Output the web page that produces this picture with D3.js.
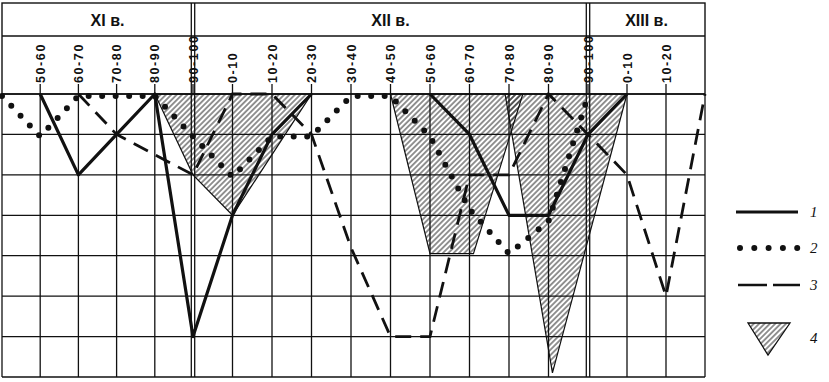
<!DOCTYPE html>
<html>
<head>
<meta charset="utf-8">
<script src="https://cdn.jsdelivr.net/npm/d3@7"></script>
<style>
  body { margin: 0; background: #fff; }
  svg { display: block; }
</style>
</head>
<body>
<svg id="chart" width="829" height="382"></svg>
<script>
// decades along the x axis (first and last columns are unlabeled borders)
const DECADES = ['40-50', '50-60', '60-70', '70-80', '80-90', '90-100',
  '0-10', '10-20', '20-30', '30-40', '40-50', '50-60', '60-70', '70-80', '80-90', '90-100',
  '0-10', '10-20', '20-30'];
const TICK_SHOWN = [false, true, true, true, true, true, true, true, true, true,
  true, true, true, true, true, true, true, true, false];

const CENTURY_NAMES = ['XI в.', 'XII в.', 'XIII в.'];
const CENTURY_BOUNDS = [0, 5, 15, 18];

// depth level (0 = top row, 7 = bottom) per decade, null = no line
const SERIES_SOLID = [null, 0, 2, 1, 0, 6, 3, 1, 0, null, null, 0, 1, 3, 3, 1, 0, null, null];
const SERIES_DOTTED = [0, 1, 0, 0, 0, 1, 2, 1, 1, 0, 0, 1, 2.8, 3.9, 3.1, 0, null, null, null];
const SERIES_DASHED = [null, null, 0, 1, 1.5, 2, 0, 0, 1, 3.8, 6, 6, 2, 2, 0, 1, 2, 5, 0];

// hatched areas (series 4) as [decade index, level] outlines
const HATCH_A = [[4, 0], [5, 2], [6, 3], [7, 1.5], [8, 0]];
const HATCH_B = [[10, 0], [11, 3.95], [12.1, 3.95], [13.05, 0.95], [13.35, 0]];
const HATCH_C = [[12.9, 0], [14.1, 6.9], [16, 0]];

const LEGEND_LABELS = ['1', '2', '3', '4'];

const svg = d3.select('#chart');

const x = d3.scaleLinear().domain(CENTURY_BOUNDS).range([2, 193, 588, 705]);
const y = d3.scaleLinear().domain([0, 7]).range([94, 377]);
const HEAD_TOP = 3;
const HEAD_MID = 36;
const INK = '#111';

const pattern = svg.append('defs').append('pattern')
  .attr('id', 'hatch')
  .attr('patternUnits', 'userSpaceOnUse')
  .attr('width', 3.8)
  .attr('height', 3.8)
  .attr('patternTransform', 'rotate(45)');
pattern.append('line')
  .attr('x1', 1.9).attr('y1', 0).attr('x2', 1.9).attr('y2', 3.8)
  .attr('stroke', INK).attr('stroke-width', 0.9);

// hatched areas
const outline = d3.line().x(d => x(d[0])).y(d => y(d[1]));
svg.append('g').selectAll('path')
  .data([HATCH_A, HATCH_B, HATCH_C])
  .join('path')
  .attr('d', d => outline(d) + 'Z')
  .attr('fill', 'url(#hatch)')
  .attr('stroke', INK)
  .attr('stroke-width', 1.2);

// grid
const grid = svg.append('g').attr('stroke', INK).attr('stroke-width', 1.3);
grid.selectAll('line.v')
  .data(d3.range(DECADES.length).filter(i => !CENTURY_BOUNDS.slice(1, -1).includes(i)))
  .join('line')
  .attr('class', 'v')
  .attr('x1', i => x(i)).attr('x2', i => x(i))
  .attr('y1', y(0)).attr('y2', y(7));
grid.selectAll('line.h')
  .data(d3.range(0, 8))
  .join('line')
  .attr('class', 'h')
  .attr('x1', x(0)).attr('x2', x(18))
  .attr('y1', d => y(d)).attr('y2', d => y(d));

// century boundaries: double lines through header and plot
CENTURY_BOUNDS.slice(1, -1).forEach(b => {
  [-1.7, 1.7].forEach(off => {
    grid.append('line')
      .attr('x1', x(b) + off).attr('x2', x(b) + off)
      .attr('y1', HEAD_TOP).attr('y2', y(7));
  });
});

// header
const head = svg.append('g');
head.append('rect')
  .attr('x', x(0)).attr('y', HEAD_TOP)
  .attr('width', x(18) - x(0)).attr('height', y(0) - HEAD_TOP)
  .attr('fill', 'none').attr('stroke', INK).attr('stroke-width', 1.4);
head.append('line')
  .attr('x1', x(0)).attr('x2', x(18))
  .attr('y1', HEAD_MID).attr('y2', HEAD_MID)
  .attr('stroke', INK).attr('stroke-width', 1.4);

head.selectAll('text.century')
  .data(CENTURY_NAMES)
  .join('text')
  .attr('class', 'century')
  .attr('x', (d, i) => (x(CENTURY_BOUNDS[i]) + x(CENTURY_BOUNDS[i + 1])) / 2 + (i === 0 ? 10 : 0))
  .attr('y', 26)
  .attr('text-anchor', 'middle')
  .attr('font-family', '"Liberation Sans", Arial, sans-serif')
  .attr('font-weight', 'bold')
  .attr('font-size', 16)
  .attr('fill', INK)
  .text(d => d);

const ticks = d3.range(DECADES.length).filter(i => TICK_SHOWN[i]);
head.selectAll('line.tick')
  .data(ticks)
  .join('line')
  .attr('class', 'tick')
  .attr('x1', i => x(i)).attr('x2', i => x(i))
  .attr('y1', 84).attr('y2', y(0))
  .attr('stroke', INK).attr('stroke-width', 1.3);
head.selectAll('text.tick')
  .data(ticks)
  .join('text')
  .attr('class', 'tick')
  .attr('transform', i => `translate(${x(i)},83) rotate(-90)`)
  .attr('dy', '0.36em')
  .attr('font-family', '"Liberation Sans", Arial, sans-serif')
  .attr('font-weight', 'bold')
  .attr('font-size', 12.5)
  .attr('letter-spacing', 1.6)
  .attr('fill', INK)
  .text(i => DECADES[i]);

// series lines
const line = d3.line()
  .defined(d => d != null)
  .x((d, i) => x(i))
  .y(d => y(d));

svg.append('path')
  .datum(SERIES_DASHED)
  .attr('d', line)
  .attr('fill', 'none')
  .attr('stroke', INK)
  .attr('stroke-width', 2.8)
  .attr('stroke-dasharray', '16 9');

svg.append('path')
  .datum(SERIES_DOTTED)
  .attr('d', line)
  .attr('transform', 'translate(0,2)')
  .attr('fill', 'none')
  .attr('stroke', INK)
  .attr('stroke-width', 6)
  .attr('stroke-linecap', 'round')
  .attr('stroke-dasharray', '0 13.5');

svg.append('path')
  .datum(SERIES_SOLID)
  .attr('d', line)
  .attr('fill', 'none')
  .attr('stroke', INK)
  .attr('stroke-width', 3.2)
  .attr('stroke-linejoin', 'round');

// legend
const legend = svg.append('g');
const lx0 = 736, lx1 = 798;
legend.append('line')
  .attr('x1', lx0).attr('x2', lx1).attr('y1', 212).attr('y2', 212)
  .attr('stroke', INK).attr('stroke-width', 3);
legend.append('line')
  .attr('x1', lx0 + 4).attr('x2', lx1).attr('y1', 248).attr('y2', 248)
  .attr('stroke', INK).attr('stroke-width', 6)
  .attr('stroke-linecap', 'round').attr('stroke-dasharray', '0 14.3');
legend.append('line')
  .attr('x1', lx0 + 2).attr('x2', lx1 + 2).attr('y1', 285).attr('y2', 285)
  .attr('stroke', INK).attr('stroke-width', 2.6)
  .attr('stroke-dasharray', '29 6');
legend.append('path')
  .attr('d', 'M748,323 L790,323 L768,355 Z')
  .attr('fill', 'url(#hatch)')
  .attr('stroke', INK).attr('stroke-width', 1.3);

legend.selectAll('text')
  .data(LEGEND_LABELS)
  .join('text')
  .attr('x', 810)
  .attr('y', (d, i) => [217, 253, 290, 343][i])
  .attr('font-family', '"Liberation Serif", "Times New Roman", serif')
  .attr('font-style', 'italic')
  .attr('font-size', 15)
  .attr('fill', INK)
  .text(d => d);
</script>
</body>
</html>
